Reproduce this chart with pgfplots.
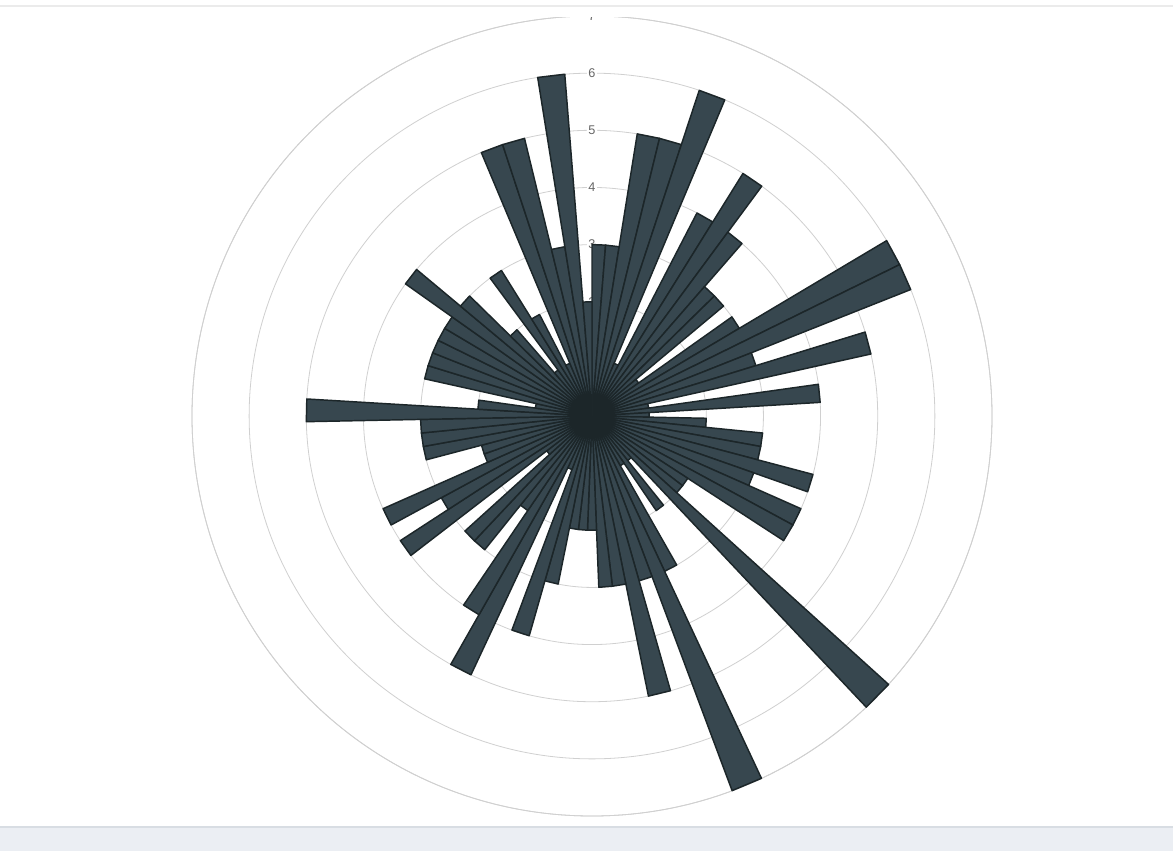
\documentclass[border=0pt]{standalone}
\usepackage{fontspec}
\setmainfont{Liberation Sans}
\usepackage{pgfplots}
\usepackage{pgfplotstable}
\pgfplotsset{compat=1.18}
\usepgfplotslibrary{polar}
\usetikzlibrary{backgrounds}
\definecolor{barfill}{HTML}{37474F}
\definecolor{baredge}{HTML}{1C2629}
\definecolor{gridc}{HTML}{D0D0D0}
\definecolor{lab}{HTML}{666666}
\definecolor{band}{HTML}{EBEEF3}
\definecolor{bandline}{HTML}{D8DDE3}
\definecolor{topline}{HTML}{EBEBEB}

\pgfplotstableread{
k v
0 3
1 3
2 5
3 5
4 6
5 1
6 4
7 5
8 4
9 3
10 3
11 1
12 3
13 6
14 6
15 3
16 5
17 1
18 4
19 1
20 2
21 3
22 3
23 4
24 3
25 4
26 4
27 2
28 2
29 7
30 1
31 2
32 1
33 3
34 7
35 3
36 5
37 3
38 3
39 2
40 2
41 2
42 3
43 4
44 1
45 5
46 4
47 2
48 3
49 3
50 1
51 4
52 3
53 4
54 2
55 2
56 3
57 3
58 3
59 5
60 2
61 1
62 3
63 3
64 3
65 3
66 3
67 4
68 3
69 2
70 1
71 3
72 2
73 1
74 5
75 5
76 3
77 6
78 2
}\rosedata

\begin{document}
\begin{tikzpicture}[x=0.75pt,y=0.75pt]
\begin{polaraxis}[
  scale only axis, width=600pt, height=600pt,
  ymin=0, ymax=7,
  xtick=\empty,
  ytick={1,2,3,4,5,6,7},
  yticklabels={},
  ymajorgrids,
  major grid style={gridc, line width=0.6pt},
  axis line style={gridc, line width=0.6pt},
  y axis line style={draw=none},
  major tick length=0pt,
  clip=false,
]
\coordinate (C) at (axis cs:0,0);
\pgfplotsinvokeforeach{1,...,7}{
  \node[font=\fontsize{9.5}{9.5}\selectfont, text=lab, fill=white, inner sep=1pt, anchor=center] at (axis cs:90,#1) {#1};
}
\pgfplotsforeachungrouped \i in {0,...,78}{
  \pgfplotstablegetelem{\i}{v}\of\rosedata
  \let\val\pgfplotsretval
  \pgfmathsetmacro\aone{90-\i*(360/79)}
  \pgfmathsetmacro\atwo{90-(\i+1)*(360/79)}
  \edef\doplot{\noexpand\addplot[fill=barfill, draw=baredge, line width=1.1pt, line join=round, mark=none] coordinates {(\aone,0) (\aone,\val) (\atwo,\val) (\atwo,0)} -- cycle;}
  \doplot
}
\end{polaraxis}
\pgfresetboundingbox
\path (C) ++(-592,-435) coordinate (SW) ++(1173,851) coordinate (NE);
\begin{scope}[on background layer]
\fill[white] (SW) rectangle (NE);
\end{scope}
% chart canvas top edge clips the outermost label
\fill[white] (SW) ++(0,834.4) rectangle (NE);
\fill[band] (SW) rectangle ++(1173,24);
\draw[bandline, line width=0.8pt] (SW) ++(0,24) -- ++(1173,0);
\draw[topline, line width=0.8pt] (SW) ++(0,845) -- ++(1173,0);
\pgfresetboundingbox
\useasboundingbox (SW) rectangle (NE);
\end{tikzpicture}
\end{document}
